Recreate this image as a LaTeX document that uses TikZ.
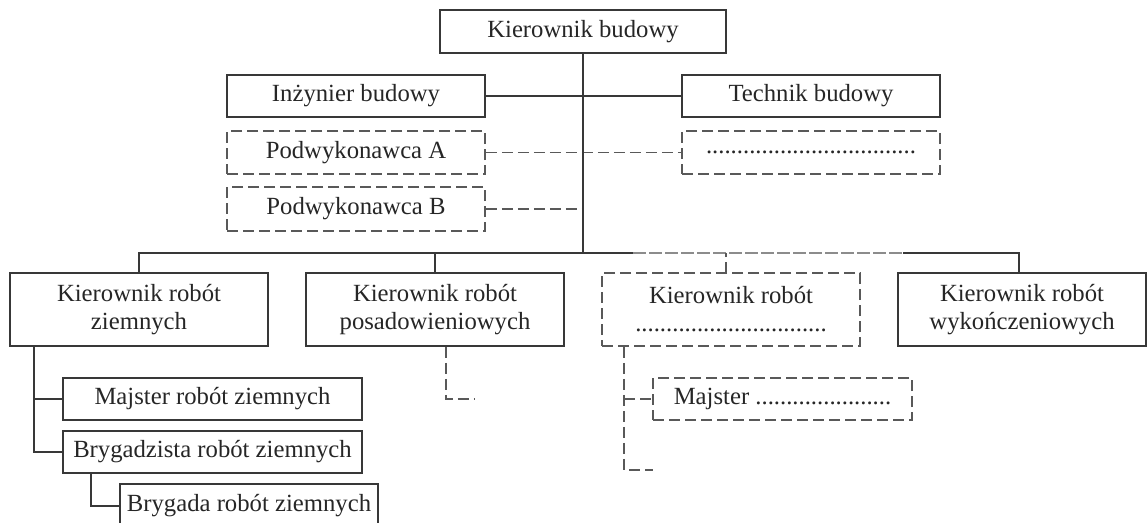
\documentclass[tikz,border=0pt]{standalone}
\usepackage{fontspec}
\setmainfont{Liberation Serif}
\begin{document}
\begin{tikzpicture}[x=1pt,y=-1pt,
  line width=1.6pt,
  box/.style={draw=black!78, rectangle, inner sep=0pt, text=black!85,
    font=\fontsize{24.7}{28}\selectfont, align=center},
  solidbox/.style={box},
  dashbox/.style={box, draw=black!65, dash pattern=on 11pt off 5pt},
  link/.style={draw=black!78},
  dlink/.style={draw=black!65, dash pattern=on 11pt off 5pt},
  glink/.style={draw=black!45, line width=1.8pt, dash pattern=on 13pt off 3pt}]
\useasboundingbox (0,0) rectangle (1147,522);

% top management
\node[solidbox, minimum width=286pt, minimum height=43pt] (kb) at (583,31.5) {Kierownik budowy};
\node[solidbox, minimum width=258pt, minimum height=42pt] (ib) at (356,96) {Inżynier budowy};
\node[solidbox, minimum width=258pt, minimum height=42pt] (tb) at (811,96) {Technik budowy};
\node[dashbox, minimum width=258pt, minimum height=43pt] (pa) at (356,152.5) {Podwykonawca A};
\node[dashbox, minimum width=258pt, minimum height=43pt] (dt) at (811,152.5) {..................................};
\node[dashbox, minimum width=258pt, minimum height=44pt] (pb) at (356,209) {Podwykonawca B};

% section managers
\node[solidbox, minimum width=258pt, minimum height=73pt] (k1) at (139,309.5) {Kierownik robót\\ziemnych};
\node[solidbox, minimum width=258pt, minimum height=73pt] (k2) at (435,309.5) {Kierownik robót\\posadowieniowych};
\node[dashbox, minimum width=258pt, minimum height=73pt] (k3) at (731,309.5) {Kierownik robót\\...............................};
\node[solidbox, minimum width=248pt, minimum height=73pt] (k4) at (1022,309.5) {Kierownik robót\\wykończeniowych};

% foremen and crews
\node[solidbox, minimum width=299pt, minimum height=42pt] (mz) at (212.5,399) {Majster robót ziemnych};
\node[solidbox, minimum width=299pt, minimum height=42pt] (bz) at (212.5,452) {Brygadzista robót ziemnych};
\node[solidbox, minimum width=258pt, minimum height=44pt] (brz) at (249,506) {Brygada robót ziemnych};
\node[dashbox, minimum width=259pt, minimum height=42pt] (mj) at (782.5,399) {Majster ......................};

% bus and junctions
\coordinate (bus) at (583,253);
\coordinate (bA) at (633,253);
\coordinate (bB) at (903,253);
\coordinate (pbj) at (583,209);
\coordinate (d3) at (726,273);
\coordinate (d4) at (1019,273);

\draw[link] (ib.east) -- (tb.west);
\draw[dlink] (pa.east) -- (dt.west);
\draw[dlink] (pb.east) -- (pbj);
\draw[link] (kb.south) -- (bus);

\draw[link] (k1.north) |- (bA);
\draw[glink] (bA) -- (bB);
\draw[link] (bB) -| (d4);
\draw[link] (k2.north) -- (k2.north |- bus);
\draw[dlink] (d3) -- (d3 |- bus);

% subordinate branches
\coordinate (t1) at ([xshift=25pt]k1.south west);
\draw[link] (t1) |- (bz.west);
\draw[link] (t1 |- mz.west) -- (mz.west);
\coordinate (t2) at ([xshift=29pt]bz.south west);
\draw[link] (t2) |- (brz.west);

\coordinate (t3) at ([xshift=11pt]k2.south);
\coordinate (e3) at (475,399);
\draw[dlink] (t3) |- (e3);

\coordinate (t4) at ([xshift=23pt]k3.south west);
\coordinate (e4) at (653,470);
\draw[dlink] (t4) |- (e4);
\draw[dlink] (t4 |- mj.west) -- (mj.west);
\end{tikzpicture}
\end{document}
